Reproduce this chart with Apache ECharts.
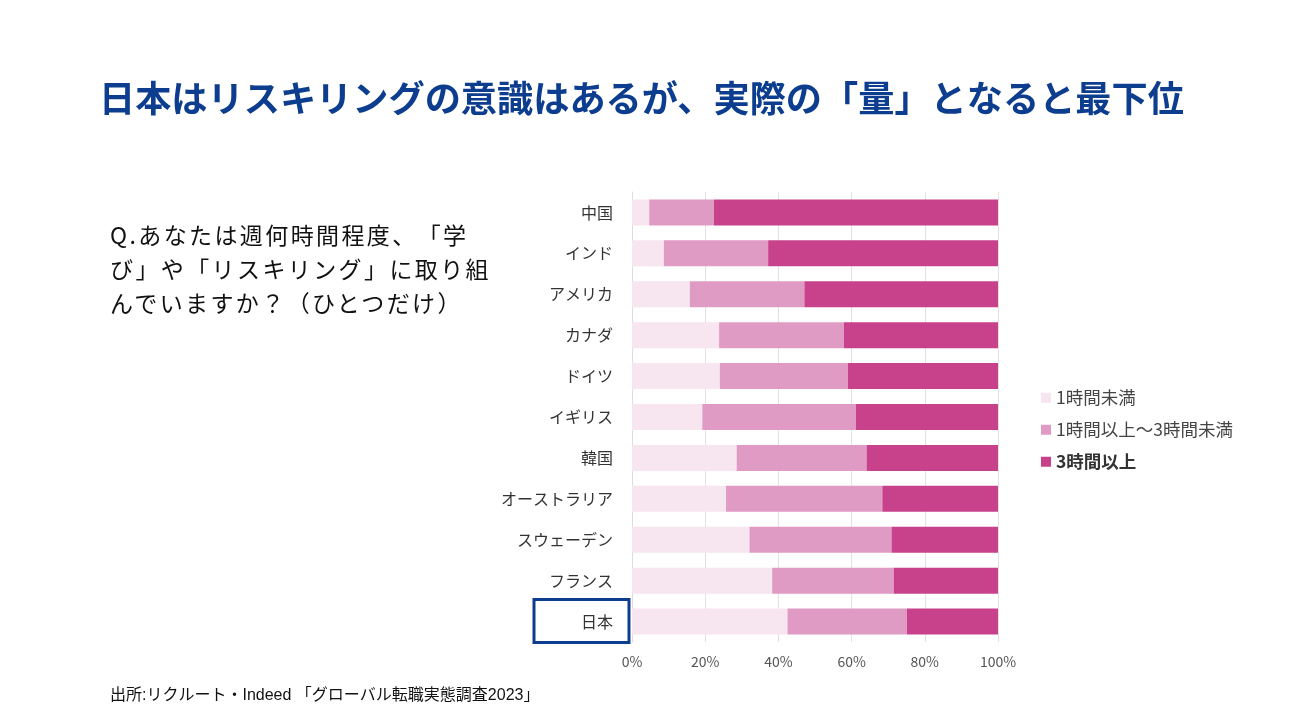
<!DOCTYPE html>
<html><head><meta charset="utf-8">
<script src="https://cdn.jsdelivr.net/npm/echarts@6/dist/echarts.min.js"></script>
<style>
html,body{margin:0;padding:0;background:#fff;}
#wrap{position:relative;width:1295px;height:723px;}
#c{width:1295px;height:723px;}
#q{position:absolute;left:110px;top:217px;font-family:"Noto Sans CJK JP","Noto Sans",sans-serif;font-size:23px;line-height:34px;letter-spacing:2.4px;color:#111;text-spacing-trim:space-all;white-space:pre;}
</style>
</head><body><div id="wrap"><div id="c"></div><div id="q"></div></div>
<script>
const categories = ['中国','インド','アメリカ','カナダ','ドイツ','イギリス','韓国','オーストラリア','スウェーデン','フランス','日本'];
const seriesNames = ['1時間未満','1時間以上～3時間未満','3時間以上'];
const lessThan1h = [4.7, 8.7, 15.8, 23.8, 24.0, 19.2, 28.6, 25.7, 32.1, 38.3, 42.5];
const from1to3h  = [17.7, 28.5, 31.3, 34.1, 35.0, 42.0, 35.5, 42.7, 38.8, 33.2, 32.6];
const over3h     = [77.6, 62.8, 52.9, 42.1, 41.0, 38.8, 35.9, 31.6, 29.1, 28.5, 24.9];
const xTicks = [0, 20, 40, 60, 80, 100];
const titleText = '日本はリスキリングの意識はあるが、実際の「量」となると最下位';
const questionLines = ['Q.あなたは週何時間程度、「学', 'び」や「リスキリング」に取り組', 'んでいますか？（ひとつだけ）'];
const sourceText = '出所:リクルート・Indeed 「グローバル転職実態調査2023」';
const highlightCategory = '日本';

document.getElementById('q').textContent = questionLines.join('\n');

const colors = ['#f7e5f0', '#e09bc4', '#c8418b'];
const jp = '"Noto Sans CJK JP", "Noto Sans", sans-serif';

const chart = echarts.init(document.getElementById('c'), null, {renderer: 'canvas'});
const mk = (name, data, i) => ({
  name, type: 'bar', stack: 'total', data, barWidth: 26,
  itemStyle: {color: colors[i]}, emphasis: {disabled: true}
});
const baseGraphic = [
  {type: 'text', left: 110, top: 688, style: {text: sourceText, font: '16px "Liberation Sans", Arial, "Noto Sans CJK JP", sans-serif', fill: '#111'}}
];
chart.setOption({
  animation: false,
  backgroundColor: '#fff',
  title: {
    text: titleText, left: 94, top: 75,
    textStyle: {color: '#0d3d8f', fontSize: 36.2, fontWeight: 'bold', fontFamily: jp}
  },
  legend: {
    orient: 'vertical', left: 1036, top: 384, itemWidth: 10, itemHeight: 10, itemGap: 14.5,
    icon: 'rect', data: seriesNames,
    formatter: n => n === '3時間以上' ? '{b|' + n + '}' : '{n|' + n + '}',
    textStyle: {
      color: '#444', fontSize: 17.5, fontFamily: jp,
      rich: {n: {fontSize: 17.5, color: '#444', fontFamily: jp}, b: {fontSize: 17.5, color: '#333', fontWeight: 'bold', fontFamily: jp}}
    }
  },
  grid: {left: 632, right: 297, top: 192, bottom: 81, containLabel: false},
  xAxis: {
    type: 'value', min: 0, max: 100, interval: 20,
    axisLabel: {formatter: v => xTicks.includes(v) ? v + '%' : '', color: '#555', fontSize: 14, margin: 13, fontFamily: jp},
    splitLine: {show: true, lineStyle: {color: '#e2e2e2', width: 1}},
    axisLine: {show: false}, axisTick: {show: false}
  },
  yAxis: {
    type: 'category', data: categories, inverse: true,
    axisLabel: {color: '#333', fontSize: 16, margin: 19, fontFamily: jp},
    axisLine: {show: true, lineStyle: {color: '#dcdcdc'}}, axisTick: {show: false}
  },
  series: [mk(seriesNames[0], lessThan1h, 0), mk(seriesNames[1], from1to3h, 1), mk(seriesNames[2], over3h, 2)],
  graphic: baseGraphic
});
const yc = chart.convertToPixel({yAxisIndex: 0}, highlightCategory);
chart.setOption({graphic: baseGraphic.concat([
  {type: 'rect', shape: {x: 534, y: yc - 22, width: 95, height: 43}, style: {fill: 'none', stroke: '#0d3d8f', lineWidth: 3}}
])});
</script></body></html>
